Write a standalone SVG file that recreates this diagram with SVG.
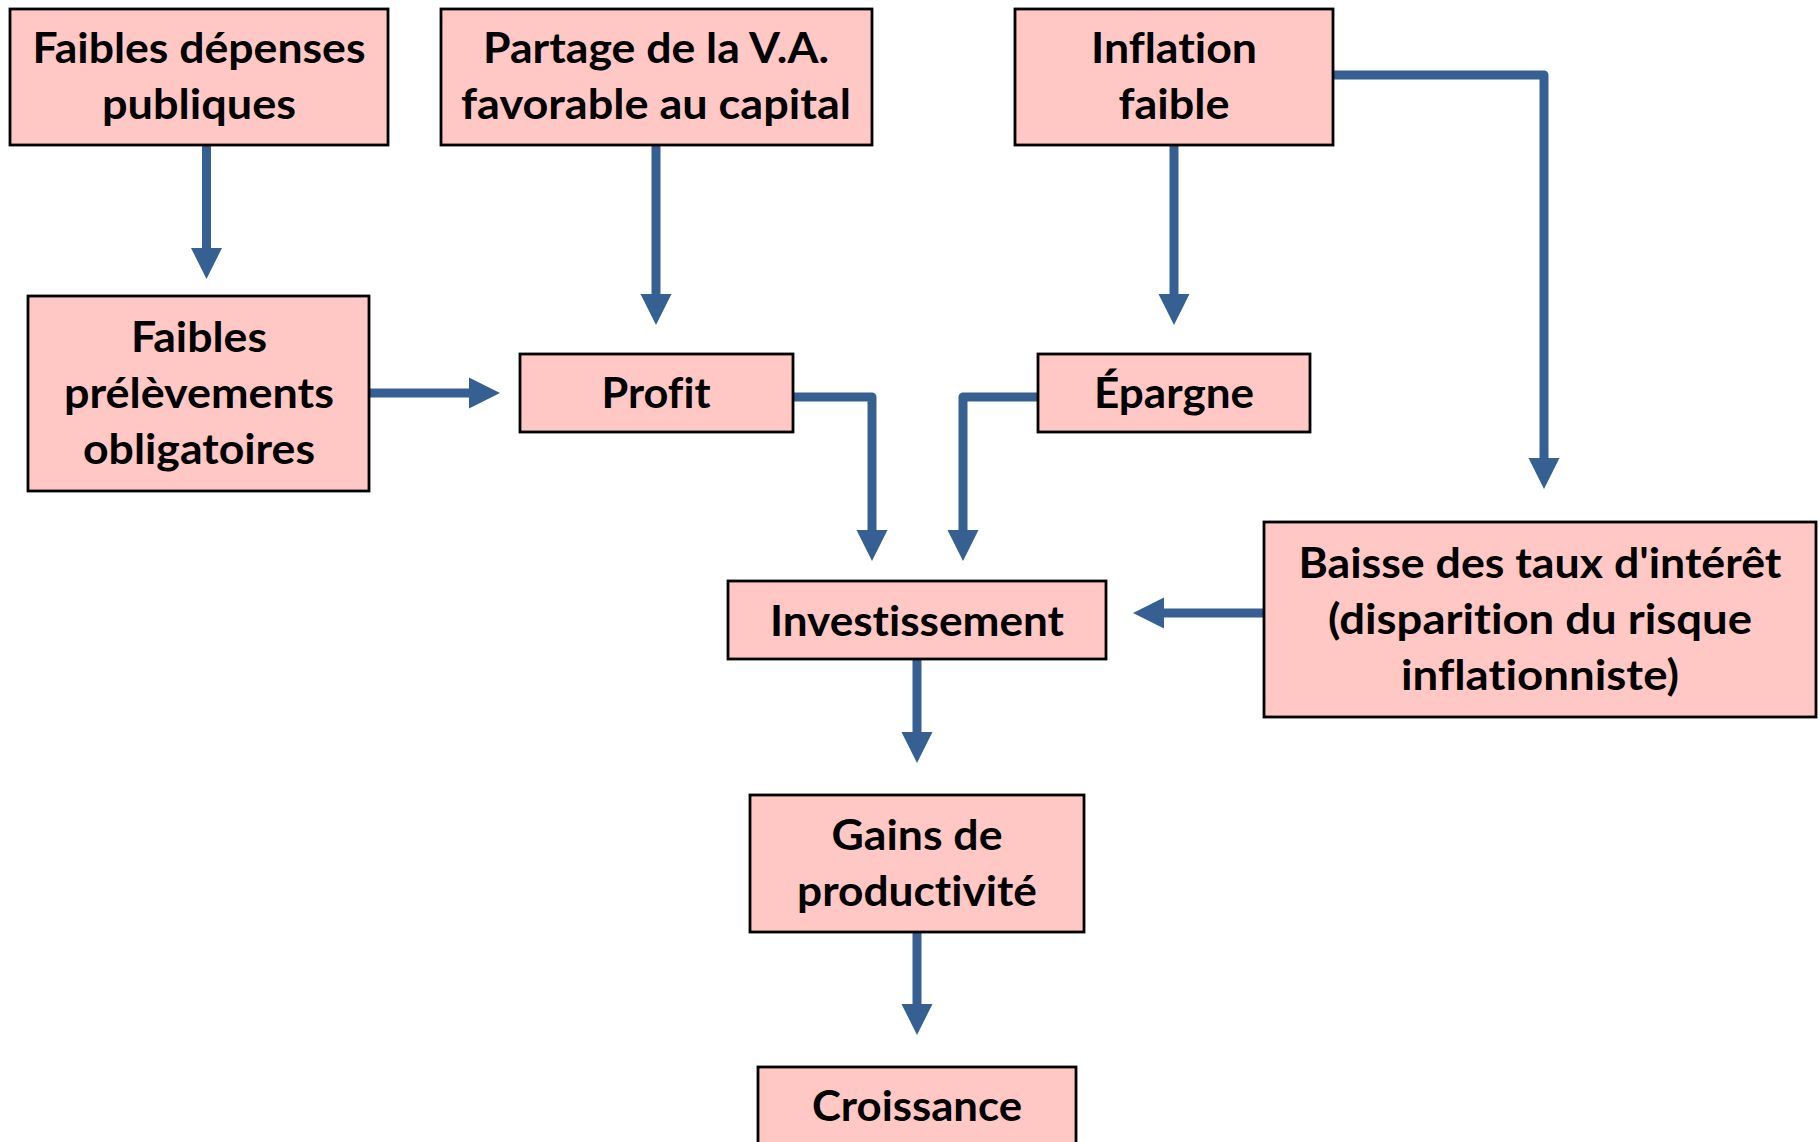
<svg xmlns="http://www.w3.org/2000/svg" width="1820" height="1142" viewBox="0 0 1820 1142">
  <style>
    .box { fill: #FFC8C4; stroke: #000000; stroke-width: 2.8; }
    .lbl { font-family: Lato, "Liberation Sans", sans-serif; font-weight: 700; font-size: 42px; fill: #000000; text-anchor: middle; font-variant-ligatures: none; font-feature-settings: "liga" 0, "clig" 0; }
    .link { fill: none; stroke: #376092; stroke-width: 9; stroke-linejoin: round; marker-end: url(#head); }
  </style>
  <defs>
    <marker id="head" markerUnits="userSpaceOnUse" markerWidth="32" markerHeight="32" viewBox="0 -16 32 32" refX="1" refY="0" orient="auto">
      <path d="M0,-15.5 L31,0 L0,15.5 Z" fill="#376092"/>
    </marker>
  </defs>

  <rect width="1820" height="1142" fill="#FFFFFF"/>

  <!-- connectors -->
  <g id="connectors">
    <path class="link" d="M206.5,145 V249"/>
    <path class="link" d="M656,145 V295"/>
    <path class="link" d="M1174,145 V295"/>
    <path class="link" d="M1333,75 H1544 V459"/>
    <path class="link" d="M369,393 H470"/>
    <path class="link" d="M793,397 H872 V531"/>
    <path class="link" d="M1038,397 H963 V531"/>
    <path class="link" d="M1264,613 H1163"/>
    <path class="link" d="M917,659 V733"/>
    <path class="link" d="M917,932 V1005"/>
  </g>

  <!-- nodes -->
  <g id="depenses">
    <rect class="box" x="10" y="9" width="378" height="136"/>
    <text class="lbl" x="199" y="63" textLength="333" lengthAdjust="spacingAndGlyphs">Faibles dépenses</text>
    <text class="lbl" x="199" y="119" textLength="194" lengthAdjust="spacingAndGlyphs">publiques</text>
  </g>
  <g id="partage">
    <rect class="box" x="441" y="9" width="431" height="136"/>
    <text class="lbl" x="656" y="63" textLength="346" lengthAdjust="spacingAndGlyphs">Partage de la V.A.</text>
    <text class="lbl" x="656" y="119" textLength="390" lengthAdjust="spacingAndGlyphs">favorable au capital</text>
  </g>
  <g id="inflation">
    <rect class="box" x="1015" y="9" width="318" height="136"/>
    <text class="lbl" x="1174" y="63" textLength="166" lengthAdjust="spacingAndGlyphs">Inflation</text>
    <text class="lbl" x="1174" y="119" textLength="111" lengthAdjust="spacingAndGlyphs">faible</text>
  </g>
  <g id="prelevements">
    <rect class="box" x="28" y="296" width="341" height="195"/>
    <text class="lbl" x="199" y="352" textLength="136" lengthAdjust="spacingAndGlyphs">Faibles</text>
    <text class="lbl" x="199" y="408" textLength="270" lengthAdjust="spacingAndGlyphs">prélèvements</text>
    <text class="lbl" x="199" y="464" textLength="232" lengthAdjust="spacingAndGlyphs">obligatoires</text>
  </g>
  <g id="profit">
    <rect class="box" x="520" y="354" width="273" height="78"/>
    <text class="lbl" x="656" y="408" textLength="109" lengthAdjust="spacingAndGlyphs">Profit</text>
  </g>
  <g id="epargne">
    <rect class="box" x="1038" y="354" width="272" height="78"/>
    <text class="lbl" x="1174" y="408" textLength="160" lengthAdjust="spacingAndGlyphs">Épargne</text>
  </g>
  <g id="investissement">
    <rect class="box" x="728" y="581" width="378" height="78"/>
    <text class="lbl" x="917" y="636" textLength="294" lengthAdjust="spacingAndGlyphs">Investissement</text>
  </g>
  <g id="taux">
    <rect class="box" x="1264" y="522" width="552" height="195"/>
    <text class="lbl" x="1540" y="578" textLength="483" lengthAdjust="spacingAndGlyphs">Baisse des taux d'intérêt</text>
    <text class="lbl" x="1540" y="634" textLength="424" lengthAdjust="spacingAndGlyphs">(disparition du risque</text>
    <text class="lbl" x="1540" y="690" textLength="278" lengthAdjust="spacingAndGlyphs">inflationniste)</text>
  </g>
  <g id="gains">
    <rect class="box" x="750" y="795" width="334" height="137"/>
    <text class="lbl" x="917" y="850" textLength="171" lengthAdjust="spacingAndGlyphs">Gains de</text>
    <text class="lbl" x="917" y="906" textLength="240" lengthAdjust="spacingAndGlyphs">productivité</text>
  </g>
  <g id="croissance">
    <rect class="box" x="758" y="1067" width="318" height="100"/>
    <text class="lbl" x="917" y="1121" textLength="210" lengthAdjust="spacingAndGlyphs">Croissance</text>
  </g>
</svg>
